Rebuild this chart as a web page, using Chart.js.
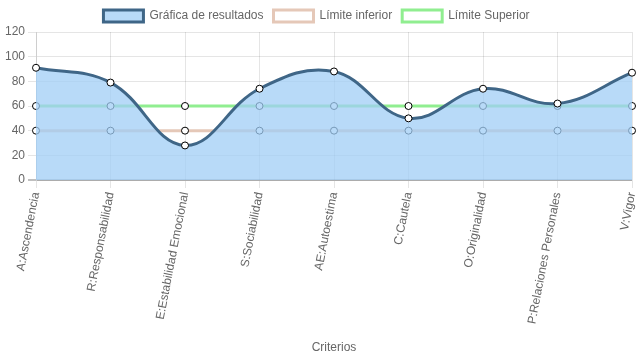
<!DOCTYPE html>
<html><head><meta charset="utf-8">
<script src="https://cdn.jsdelivr.net/npm/chart.js@4"></script>
<style>html,body{margin:0;padding:0;background:#fff}#wrap{width:637px;height:359px}</style>
</head><body><div id="wrap"><canvas id="c"></canvas></div>
<script>
const categories = ["A:Ascendencia","R:Responsabilidad","E:Estabilidad Emocional","S:Sociabilidad","AE:Autoestima","C:Cautela","O:Originalidad","P:Relaciones Personales","V:Vigor"];
const resultados = [91, 79, 28, 74, 88, 50, 74, 62, 87];
const limiteInferior = [40, 40, 40, 40, 40, 40, 40, 40, 40];
const limiteSuperior = [60, 60, 60, 60, 60, 60, 60, 60, 60];
const yTicks = [0, 20, 40, 60, 80, 100, 120];

Chart.defaults.font.family = "'Liberation Sans', Arial, sans-serif";
Chart.defaults.font.size = 12;
Chart.defaults.color = "#666";

new Chart(document.getElementById('c'), {
  type: 'line',
  data: {
    labels: categories,
    datasets: [
      {label: 'Gráfica de resultados', data: resultados, borderColor: '#3f6687', backgroundColor: 'rgba(160,205,245,0.75)', borderWidth: 3, fill: 'origin', tension: 0.4,
       pointBackgroundColor: '#fff', pointBorderColor: '#000', pointRadius: 3.5, pointBorderWidth: 1},
      {label: 'Límite inferior', data: limiteInferior, borderColor: '#e5c8b8', backgroundColor: '#fff', borderWidth: 3, fill: false, tension: 0.4,
       pointBackgroundColor: '#fff', pointBorderColor: '#000', pointRadius: 3.5, pointBorderWidth: 1},
      {label: 'Límite Superior', data: limiteSuperior, borderColor: '#90ee90', backgroundColor: '#fff', borderWidth: 3, fill: false, tension: 0.4,
       pointBackgroundColor: '#fff', pointBorderColor: '#000', pointRadius: 3.5, pointBorderWidth: 1}
    ]
  },
  options: {
    responsive: true, maintainAspectRatio: false, animation: false,
    layout: {padding: {right: 4}},
    plugins: {
      legend: {position: 'top', labels: {boxWidth: 40, font: {size: 12}}},
      tooltip: {enabled: false}
    },
    scales: {
      x: {title: {display: true, text: 'Criterios'}, grid: {color: 'rgba(0,0,0,0.1)'},
          ticks: {minRotation: 79, maxRotation: 79, padding: 3},
          afterFit: (s) => { s.height = 179; s.paddingRight = 0; s.paddingLeft = 0; }},
      y: {min: 0, max: 120, afterBuildTicks: (s) => { s.ticks = yTicks.map(v => ({value: v})); },
          afterFit: (s) => { s.width = 36; },
          grid: {color: (ctx) => ctx.tick && ctx.tick.value === 0 ? 'rgba(0,0,0,0.25)' : 'rgba(0,0,0,0.1)', lineWidth: (ctx) => ctx.tick && ctx.tick.value === 0 ? 2 : 1}}
    }
  }
});
</script></body></html>
